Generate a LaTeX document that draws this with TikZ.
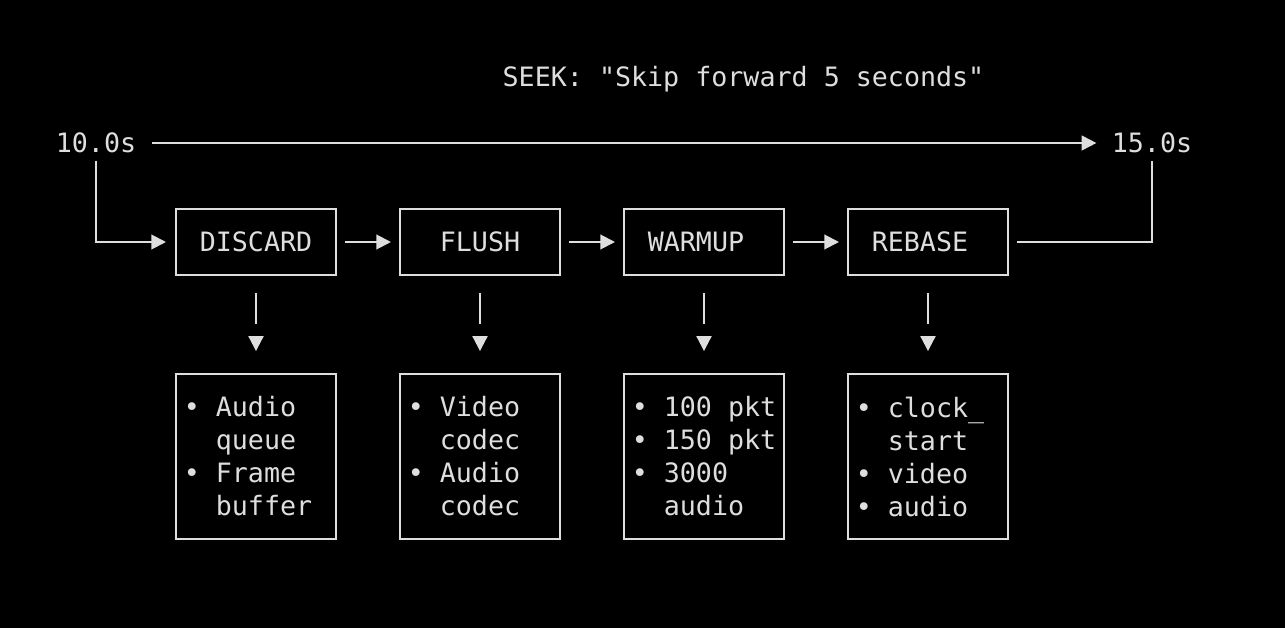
\documentclass[tikz,border=0pt]{standalone}
\usepackage{fontspec}
\setmonofont{DejaVu Sans Mono}
\usepackage{tikz}
\usetikzlibrary{arrows.meta}
\definecolor{ink}{HTML}{DEDEDE}
\tikzstyle{stage} = [draw=ink, line width=1.5pt, minimum width=120pt, minimum height=49.5pt, inner sep=0pt]
\tikzstyle{detail} = [draw=ink, line width=1.5pt, minimum width=120pt, minimum height=123.75pt, inner sep=0pt, align=left]
\tikzstyle{stamp} = [inner xsep=11.4pt, inner ysep=5.4pt]
\tikzstyle{arrow} = [ink, line width=1.5pt, -{Triangle[length=11pt,width=11pt]}]
\tikzstyle{drop} = [ink, line width=1.5pt, shorten <=12.75pt, shorten >=36.75pt]
\newcommand{\itemdot}{•\ }
\newcommand{\itemgap}{\hphantom{•\ }}

\begin{document}
\begin{tikzpicture}[x=0.75pt, y=-0.75pt, text=ink,
    font=\ttfamily\fontsize{20pt}{24.75pt}\selectfont]
        % Background
        \fill[black] (0,0) rectangle (1285,628);

        % Title and time stamps
        \node[anchor=base] (title) at (743.5,86.7) {SEEK: "Skip forward 5 seconds"};
        \node[stamp] (start) at (96,143) {10.0s};
        \node[stamp] (target) at (1152,143) {15.0s};

        % Seek stages
        \node[stage] (discard) at (256,242) {DISCARD};
        \node[stage] (flush) at (480,242) {FLUSH};
        \node[stage] (warmup) at (704,242) {WARMUP\hphantom{0}};
        \node[stage] (rebase) at (928,242) {REBASE\hphantom{0}};

        % What each stage touches (first line padded to nine columns)
        \node[detail] (discardlist) at (256,456.5) {\itemdot Audio\hphantom{00}\\\itemgap queue\\\itemdot Frame\\\itemgap buffer};
        \node[detail] (flushlist) at (480,456.5) {\itemdot Video\hphantom{00}\\\itemgap codec\\\itemdot Audio\\\itemgap codec};
        \node[detail] (warmuplist) at (704,456.5) {\itemdot 100 pkt\\\itemdot 150 pkt\\\itemdot 3000\\\itemgap audio};
        \node[detail] (rebaselist) at (928,456.5) {\itemdot clock\_\hphantom{0}\\\itemgap start\\\itemdot video\\\itemdot audio};

        % Timeline
        \draw[arrow] (start.east) -- (target.west);
        \draw[arrow, shorten >=6.75pt] (start.south) |- (discard.west);
        \draw[ink, line width=1.5pt, shorten <=6pt] (rebase.east) -| (target.south);

        % Stage to stage
        \draw[arrow, shorten <=6pt, shorten >=6pt] (discard.east) -- (flush.west);
        \draw[arrow, shorten <=6pt, shorten >=6pt] (flush.east) -- (warmup.west);
        \draw[arrow, shorten <=6pt, shorten >=6pt] (warmup.east) -- (rebase.west);

        % Stage to details, line and a loose arrow head
        \draw[drop] (discard.south) -- (discardlist.north);
        \draw[drop] (flush.south) -- (flushlist.north);
        \draw[drop] (warmup.south) -- (warmuplist.north);
        \draw[drop] (rebase.south) -- (rebaselist.north);
        \fill[ink] (discard.south) ++(-7.8,60) -- ++(15.6,0) -- ++(-7.8,15) -- cycle;
        \fill[ink] (flush.south) ++(-7.8,60) -- ++(15.6,0) -- ++(-7.8,15) -- cycle;
        \fill[ink] (warmup.south) ++(-7.8,60) -- ++(15.6,0) -- ++(-7.8,15) -- cycle;
        \fill[ink] (rebase.south) ++(-7.8,60) -- ++(15.6,0) -- ++(-7.8,15) -- cycle;
    \end{tikzpicture}
\end{document}
